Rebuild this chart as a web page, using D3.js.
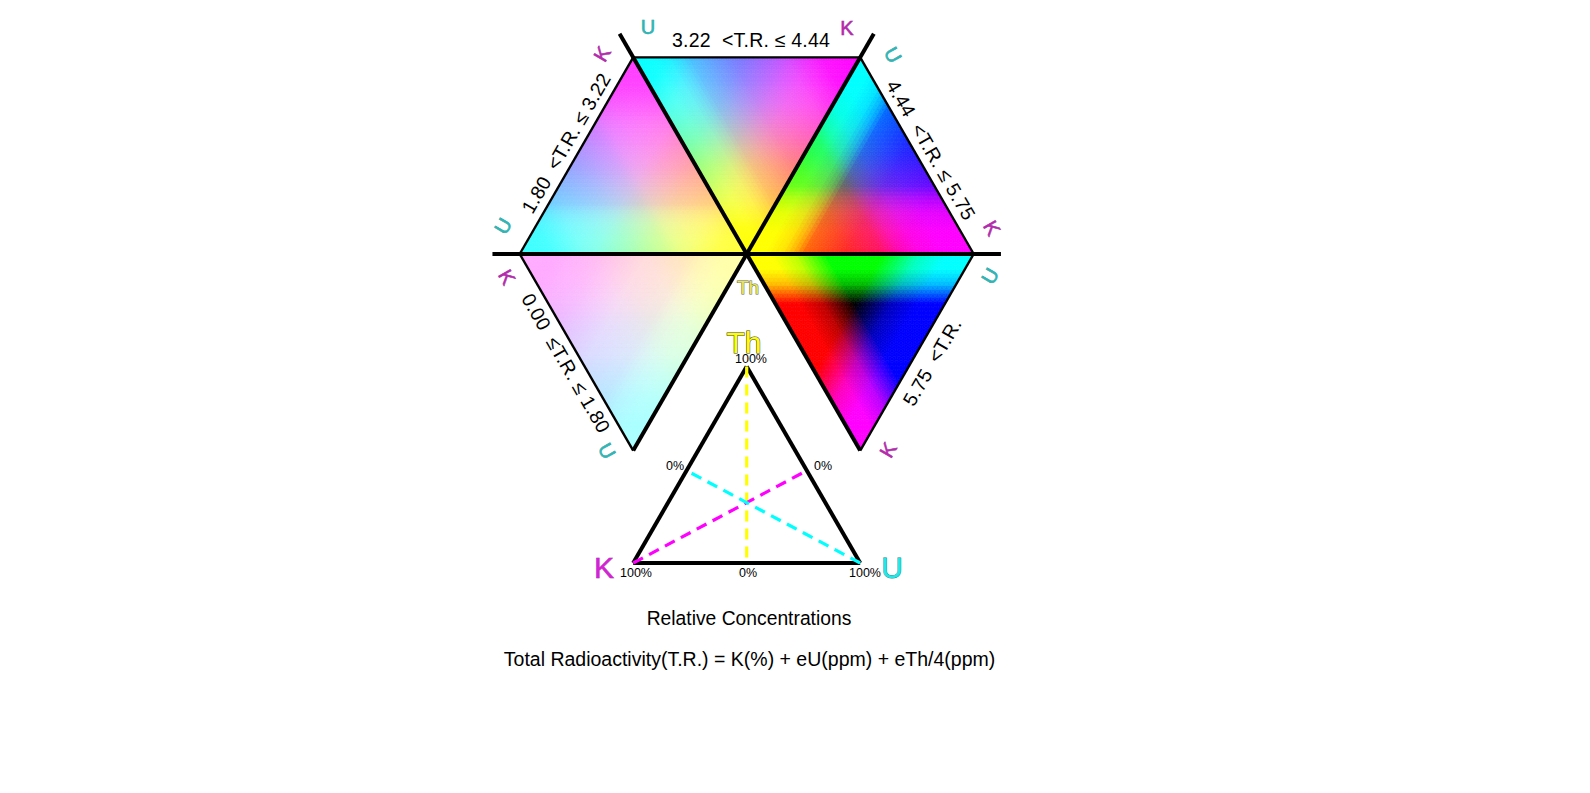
<!DOCTYPE html>
<html><head><meta charset="utf-8">
<script src="https://cdn.jsdelivr.net/npm/d3@7/dist/d3.min.js"></script>
<style>html,body{margin:0;padding:0;background:#fff}svg{display:block}text{font-family:"Liberation Sans",Arial,sans-serif;paint-order:stroke}</style>
</head><body><svg id="c" width="1590" height="793"></svg>
<script>
// ---- data ----
const rangeLabels = ["0.00  \u2264T.R. \u2264 1.80","1.80  <T.R. \u2264 3.22","3.22  <T.R. \u2264 4.44","4.44  <T.R. \u2264 5.75","5.75  <T.R."];
// ink strength at growing component shares, read per class
const componentShares = [0, 0.1, 0.2, 0.27, 1/3, 1/2, 0.7, 0.85, 1];
const inkClass1 = [0, 0.00, 0.02, 0.05, 0.09, 0.14, 0.27, 0.33, 0.33];
const inkClass2 = [0, 0.00, 0.03, 0.08, 0.18, 0.36, 0.52, 0.72, 0.78];
const inkClass3 = [0, 0.00, 0.05, 0.14, 0.25, 0.50, 0.68, 0.92, 1.00];
const inkClass4 = [0, 0.00, 0.10, 0.30, 0.60, 0.85, 0.98, 1.00, 1.00];
const inkClass5 = [0, 0.00, 0.25, 0.65, 1.00, 1.00, 1.00, 1.00, 1.00];
const inkClasses = [inkClass1, inkClass2, inkClass3, inkClass4, inkClass5];
// the dark hub of every triangle sits at about these Th, U, K shares
const hubShares = [0.40, 0.35, 0.25];
// hexagon corners (degrees) holding U and K in each class; Th is always at the hub
const uCorner = [240, 180, 120, 60, 0];
const kCorner = [180, 120, 60, 0, 300];
const legendCaption = "Relative Concentrations";
const formula = "Total Radioactivity(T.R.) = K(%) + eU(ppm) + eTh/4(ppm)";
const legendTicks = ["100%","0%","0%","100%","0%","100%"];

// ---- layout ----
const svg = d3.select("#c");
const R = 227, cx = 746.7, cy = 254, h = R*Math.sqrt(3)/2;
const X = d3.scaleLinear().domain([-1,1]).range([cx-R,cx+R]);
const Y = d3.scaleLinear().domain([-1,1]).range([cy+R,cy-R]);
const pol = (a,r=1)=>[Math.cos(a*Math.PI/180)*r, Math.sin(a*Math.PI/180)*r];
const px = p=>[X(p[0]),Y(p[1])];
const N = 50;
const shareScales = hubShares.map(s=>d3.scaleLinear().domain([0,s,1]).range([0,1/3,1]));

const gCells = svg.append("g");
inkClasses.forEach((ink,ci)=>{
  const f = d3.scaleLinear().domain(componentShares).range(ink).clamp(true);
  const U = pol(uCorner[ci]), K = pol(kCorner[ci]), T=[0,0];
  const bary=(t,u,k)=>[T[0]*t+U[0]*u+K[0]*k, T[1]*t+U[1]*u+K[1]*k];
  const cells=[];
  for(let i=0;i<N;i++)for(let j=0;j<N-i;j++){
    const k=N-i-j;
    cells.push([[i,j,k],[i+1,j,k-1],[i,j+1,k-1]]);
    if(k>=2) cells.push([[i+1,j,k-1],[i,j+1,k-1],[i+1,j+1,k-2]]);
  }
  const colour=c=>{
    const s=c.reduce((a,v)=>[a[0]+v[0],a[1]+v[1],a[2]+v[2]],[0,0,0]).map((v,i)=>shareScales[i](v/(3*N)));
    const y=f(s[0]),cy_=f(s[1]),m=f(s[2]);
    return d3.rgb(255*(1-cy_),255*(1-m),255*(1-y)).formatHex();
  };
  gCells.append("g").selectAll("polygon").data(cells).join("polygon")
    .attr("points",c=>c.map(v=>px(bary(v[0]/N,v[1]/N,v[2]/N)).map(d=>d.toFixed(2)).join(",")).join(" "))
    .attr("fill",colour).attr("stroke",colour).attr("stroke-width",0.7);
});

// outer rim (thin)
const line=(a,b,w,col="#000",dash=null)=>svg.append("line")
  .attr("x1",X(a[0])).attr("y1",Y(a[1])).attr("x2",X(b[0])).attr("y2",Y(b[1]))
  .attr("stroke",col).attr("stroke-width",w).attr("stroke-dasharray",dash);
[[180,120],[120,60],[60,0],[0,300],[240,180]].forEach(([a,b])=>line(pol(a),pol(b),2.4));
// spokes (thick)
line(pol(180,1.12),pol(0,1.12),4);
line(pol(120,1.12),pol(300,1),4);
line(pol(60,1.12),pol(240,1),4);

// text helper
const txt=(s,x,y,size,rot=0,fill="#000",stroke=null,sw=0,ls=0)=>svg.append("text").text(s)
  .attr("transform",`translate(${x},${y}) rotate(${rot})`)
  .attr("text-anchor","middle").attr("dominant-baseline","central")
  .attr("font-size",size).attr("fill",fill).attr("letter-spacing",ls)
  .attr("stroke",stroke).attr("stroke-width",sw).style("white-space","pre");

// range labels
const labelPos=[[566,363,60],[566,143,-60],[751,40,0],[931,150,60],[932,362,-60]];
rangeLabels.forEach((s,i)=>txt(s,labelPos[i][0],labelPos[i][1],19.5,labelPos[i][2],"#000",null,0,0.2));

// corner letters
const uMark=(x,y,r)=>txt("U",x,y,20,r,"#28b8b8","#1a8a8a",0.5);
const kMark=(x,y,r)=>txt("K",x,y,20,r,"#b828b0","#8a1a8a",0.5);
uMark(648,27,0);kMark(847,28,0);kMark(602,54,-60);uMark(893,55,60);uMark(503,226,-60);kMark(992,228,60);
kMark(507,277,60);uMark(990,276,-60);uMark(607,451,60);kMark(888,450,-60);
txt("Th",748,287,19,0,"#e8e850","#666",1);

// legend triangle
const ly=d3.scaleLinear().domain([0,1]).range([563,563-h]);
const lx=d3.scaleLinear().domain([-1,1]).range([cx-R/2,cx+R/2]);
const A=[lx(-1),ly(0)],B=[lx(1),ly(0)],C=[lx(0),ly(1)];
const L=(a,b,w,col,dash)=>svg.append("line").attr("x1",a[0]).attr("y1",a[1]).attr("x2",b[0]).attr("y2",b[1]).attr("stroke",col).attr("stroke-width",w).attr("stroke-dasharray",dash||null);
const mid=(a,b,t=0.5)=>[a[0]+(b[0]-a[0])*t,a[1]+(b[1]-a[1])*t];
L(A,B,4,"#000");L(A,C,4,"#000");L(B,C,4,"#000");
L(C,mid(A,B),3.2,"#ffff00","11 7");
L(A,mid(B,C,0.47),3.2,"#ff00ff","11 7");
L(B,mid(A,C,0.47),3.2,"#00ffff","11 7");
txt("Th",744,342,30,0,"#ffff00","#444",1.1);
txt("K",604,567,30,0,"#d820d8","#7a1a7a",0.5);
txt("U",892,567,30,0,"#20e8e8","#107f7f",0.8);
[[636,573],[675,466],[748,573],[751,359],[823,466],[865,573]].forEach((p,i)=>{
  const t=[legendTicks[3],legendTicks[1],legendTicks[2],legendTicks[0],legendTicks[4],legendTicks[5]][i];
  txt(t,p[0],p[1],12.5);
});

txt(legendCaption,749,618,19.3);
txt(formula,749.5,659,19.5);
</script></body></html>
